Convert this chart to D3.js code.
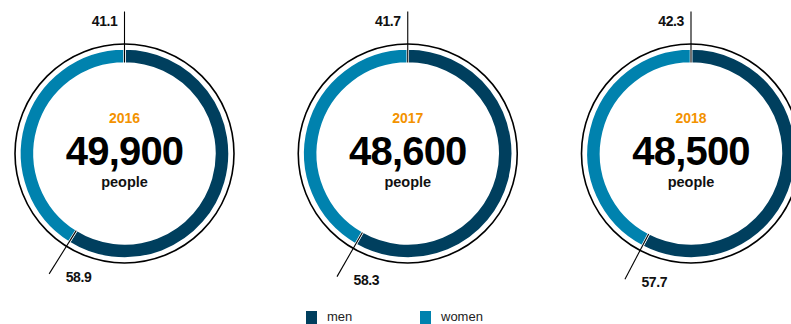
<!DOCTYPE html>
<html>
<head>
<meta charset="utf-8">
<script src="https://cdn.jsdelivr.net/npm/d3@7"></script>
<style>
  html, body { margin: 0; padding: 0; background: #fff; }
  svg { display: block; }
  text { font-family: "Liberation Sans", Arial, sans-serif; }
</style>
</head>
<body>
<svg id="chart" width="791" height="324"></svg>
<script>
const years = ["2016", "2017", "2018"];
const totals = ["49,900", "48,600", "48,500"];
const menShare = [58.9, 58.3, 57.7];
const womenShare = [41.1, 41.7, 42.3];
const seriesNames = ["men", "women"];
const seriesColors = ["#003f5e", "#0082ae"];

const svg = d3.select("#chart");
const cx = d3.scalePoint().domain(years).range([124.5, 691]);
const cy = 153.5;
const color = d3.scaleOrdinal().domain(seriesNames).range(seriesColors);

const rInner = 90, rOuter = 105, rRing = 109.5, rLine = 142;
const pie = d3.pie().sort(null).value(d => d.value);
const arc = d3.arc().innerRadius(rInner).outerRadius(rOuter);

years.forEach((yr, i) => {
  const g = svg.append("g").attr("transform", `translate(${cx(yr)},${cy})`);
  const data = [
    { key: "men", value: menShare[i] },
    { key: "women", value: womenShare[i] }
  ];
  const arcs = pie(data);

  g.append("circle").attr("r", rRing).attr("fill", "none")
    .attr("stroke", "#000").attr("stroke-width", 1.6);

  g.selectAll("path.seg").data(arcs).join("path")
    .attr("class", "seg")
    .attr("d", arc)
    .attr("fill", d => color(d.data.key))
    .attr("stroke", "#fff").attr("stroke-width", 2.5);

  // separators / label leaders
  const angles = [0, arcs[0].endAngle];
  angles.forEach(a => {
    g.append("line")
      .attr("x1", (rInner + 1) * Math.sin(a)).attr("y1", -(rInner + 1) * Math.cos(a))
      .attr("x2", rLine * Math.sin(a)).attr("y2", -rLine * Math.cos(a))
      .attr("stroke", "#000").attr("stroke-width", 1.1);
  });

  // top label (women share)
  g.append("text")
    .attr("x", -7).attr("y", -rLine + 14.5)
    .attr("text-anchor", "end")
    .attr("font-size", 14).attr("font-weight", "bold").attr("fill", "#111")
    .attr("letter-spacing", -0.4)
    .text(womenShare[i].toFixed(1));

  // bottom label (men share)
  const a = arcs[0].endAngle;
  g.append("text")
    .attr("x", rLine * Math.sin(a) + 16.5).attr("y", -rLine * Math.cos(a) + 8)
    .attr("font-size", 14).attr("font-weight", "bold").attr("fill", "#111")
    .attr("letter-spacing", -0.4)
    .text(menShare[i].toFixed(1));

  g.append("text").attr("y", -30.5).attr("text-anchor", "middle")
    .attr("font-size", 14).attr("font-weight", "bold").attr("fill", "#f39200")
    .text(yr);
  g.append("text").attr("y", 11).attr("text-anchor", "middle")
    .attr("font-size", 40).attr("font-weight", "bold").attr("fill", "#000")
    .attr("letter-spacing", -0.8)
    .text(totals[i]);
  g.append("text").attr("y", 33.5).attr("text-anchor", "middle")
    .attr("font-size", 14.5).attr("font-weight", "bold").attr("fill", "#111")
    .text("people");
});

// legend
const legendX = d3.scaleOrdinal().domain(seriesNames).range([306, 420]);
const lg = svg.append("g");
seriesNames.forEach(s => {
  lg.append("rect").attr("x", legendX(s)).attr("y", 311)
    .attr("width", 11).attr("height", 13).attr("fill", color(s));
  lg.append("text").attr("x", legendX(s) + 21).attr("y", 321)
    .attr("font-size", 13).attr("fill", "#222").text(s);
});
</script>
</body>
</html>
